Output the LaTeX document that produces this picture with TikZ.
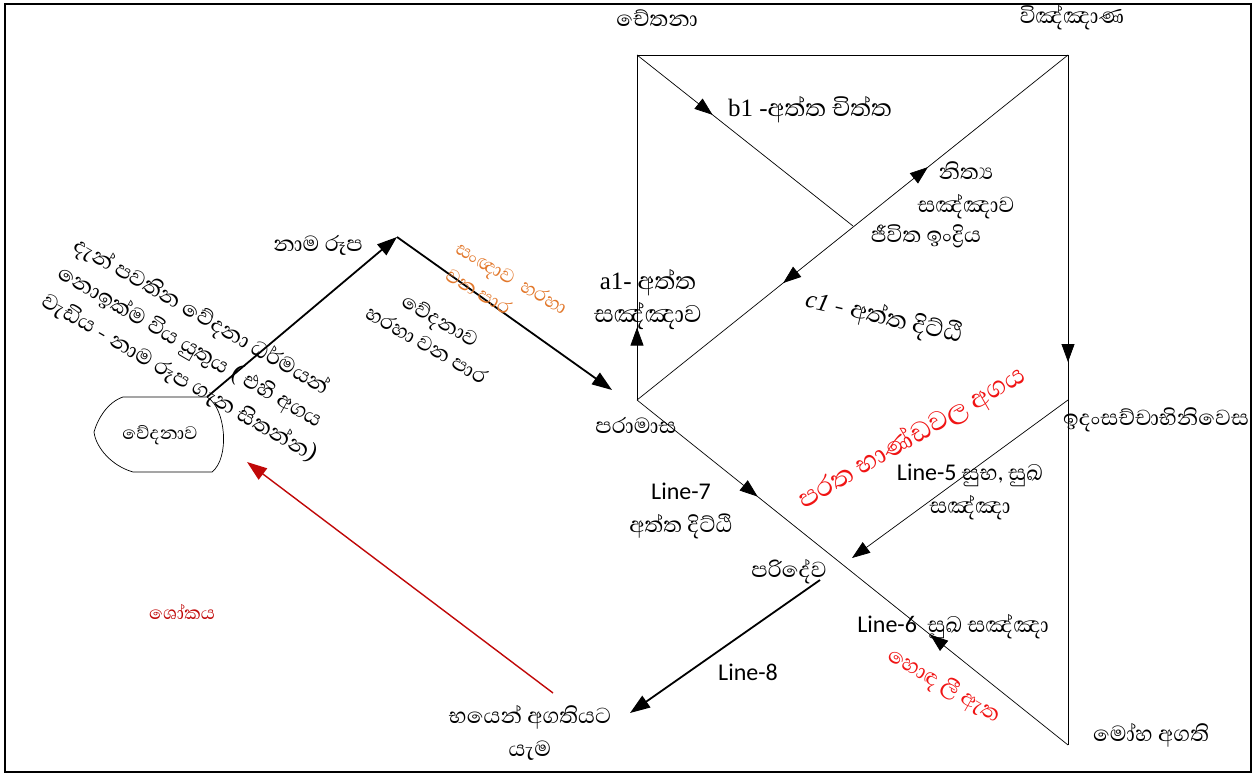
\documentclass[tikz,border=0pt]{standalone}
\usepackage{fontspec}
\setmainfont{Liberation Serif}
\newfontfamily\sinfont[Script=Sinhala,Scale=1.55]{Abhaya Libre}
\newfontfamily\calibrifont{Carlito}
\newfontfamily\timesfont{Liberation Serif}
\newcommand\linelbl[1]{{\calibrifont\fontsize{24}{33}\selectfont #1}}
\newcommand\romlbl[1]{{\timesfont\fontsize{25}{33}\selectfont #1}}
\usetikzlibrary{arrows.meta,decorations.markings}
\definecolor{sanjna}{RGB}{226,120,44}
\definecolor{shoka}{RGB}{192,8,8}
\definecolor{bhanda}{RGB}{240,20,20}

\begin{document}
\begin{tikzpicture}[x=1pt, y=-1pt, line width=0.7pt,
    every node/.style={font=\sinfont\fontsize{18}{33}\selectfont, inner sep=1pt},
    big/.style={font=\sinfont\fontsize{20}{33}\selectfont},
    small/.style={font=\sinfont\fontsize{15}{28}\selectfont},
    tip at/.style={postaction={decorate, decoration={markings,
      mark=at position #1 with {\arrow{Triangle[length=18pt,width=13pt]}}}}},
    back at/.style={postaction={decorate, decoration={markings,
      mark=at position #1 with {\arrowreversed{Triangle[length=18pt,width=13pt]}}}}},
    heavy/.style={line width=1.8pt, -{Triangle[length=20pt,width=14pt]}}]
  \useasboundingbox (0,0) rectangle (1257,776);
  \draw[line width=1.5pt] (5,4) rectangle (1251,772);

  % corners of the square
  \coordinate (cet) at (637,55);
  \coordinate (vin) at (1068,55);
  \coordinate (par) at (637,400);
  \coordinate (moh) at (1068,745);
  \coordinate (jiv) at (853,226);
  \coordinate (ida) at (1068,400);
  \coordinate (sub) at (852,558);

  \draw (cet) -- (vin);
  \draw[tip at=0.445] (vin) -- (moh);
  \draw[tip at=0.21] (par) -- (cet);
  \draw[tip at=0.675, back at=0.339] (par) -- (vin);
  \draw[tip at=0.35] (cet) -- (jiv);
  \draw[tip at=0.28, back at=0.68] (par) -- (moh);
  \draw[-{Triangle[length=18pt,width=13pt]}] (ida) -- (sub);

  % vedana shape
  \coordinate (vtop) at (207,397);
  \draw (123,397) -- (vtop) .. controls (226,408) and (230,458) .. (212,472)
    -- (133,472) .. controls (112,466) and (96,448) .. (94,432)
    .. controls (98,418) and (108,402) .. (123,397) -- cycle;
  \node[small] (vedN) at (160,435) {වේදනාව};

  \coordinate (nam) at (397,237);
  \coordinate (pin) at (612,390);
  \coordinate (pd1) at (820,580);
  \coordinate (bay) at (630,713);
  \coordinate (sk1) at (553,693);
  \coordinate (ved) at (247,462);
  \draw[heavy] (vtop) -- (nam);
  \draw[heavy] (nam) -- (pin);
  \draw[heavy] (pd1) -- (bay);
  \draw[heavy, shoka, line width=1.4pt] (sk1) -- (ved);

  \node (cetN) at (657,18) {චේතනා};
  \node (vinN) at (1072,18) {විඤ්ඤාණ};
  \node[big] (b1N) at (810,110) {\romlbl{b1 -}අත්ත චිත්ත};
  \node[align=center] (nitN) at (966,190) {නිත්^^^^200dය\\සඤ්ඤාව};
  \node (jivN) at (926,236) {ජීවිත ඉංද්^^^^200dරිය};
  \node[big, align=center] (a1N) at (648,300) {\romlbl{a1-} අත්ත\\සඤ්ඤාව};
  \node[big, rotate=-13] (c1N) at (884,318) {\romlbl{\itshape c1} - අත්ත දිට්ඨි};
  \node (idaN) at (1156,420) {ඉදංසච්චාභිනිවෙස};
  \node (parN) at (636,425) {පරාමාස};
  \node[align=center] (l7N) at (681,511) {\linelbl{Line-7}\\අත්ත දිට්ඨි};
  \node[bhanda, rotate=30, font=\sinfont\fontsize{22}{30}\selectfont] (bhaN) at (912,438) {පරත භාණ්ඩවල අගය};
  \node[align=center] (l5N) at (970,492) {\linelbl{Line-5} සුභ, සුඛ\\සඤ්ඤා};
  \node (pdvN) at (789,572) {පරිදේව};
  \node (l6N) at (953,627) {\linelbl{Line-6}\ \ සුඛ සඤ්ඤා};
  \node[bhanda, rotate=-30] (honN) at (944,686) {හොඳ ලී ඇත};
  \node (mohN) at (1151,735) {මෝහ අගති};
  \node (l8N) at (748,672) {\linelbl{Line-8}};
  \node[align=center] (bayN) at (530,733) {භයෙන් අගතියට\\යැම};
  \node[shoka, small] (shoN) at (182,612) {ශෝකය};
  \node (namN) at (318,245) {නාම රූප};
  \node[sanjna, rotate=-30, align=left, font=\sinfont\fontsize{16}{28}\selectfont] (sanN) at (505,290) {සංඥාව\ \ හරහා\\\ වන පාර};
  \node[rotate=-30, align=center, font=\sinfont\fontsize{17}{28}\selectfont] (vhpN) at (434,332) {වේදනාව\\හරහා වන පාර};
  \node[rotate=-30, align=left, font=\sinfont\fontsize{18}{32}\selectfont] (dukN) at (196,350)
    {දැන් පවතින වේදනා ධර්මයන්\\නොඉක්ම විය යුතුය ( එහි අගය\\වැඩිය - නාම රූප ගැන සිතන්න)};
\end{tikzpicture}
\end{document}
